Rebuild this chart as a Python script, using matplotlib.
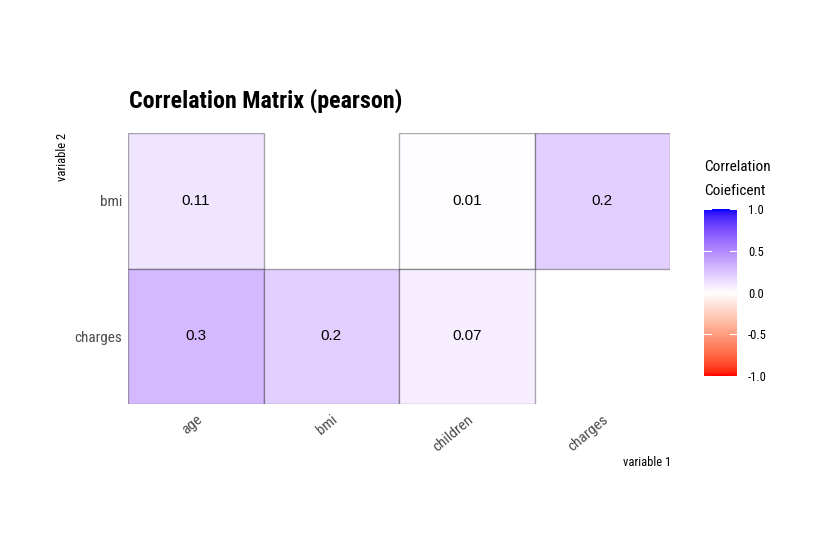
import numpy as np
import matplotlib
matplotlib.use("Agg")
import matplotlib.pyplot as plt
from matplotlib.colors import ListedColormap, Normalize
from matplotlib.patches import Rectangle

x_vars = ["age", "bmi", "children", "charges"]
y_vars = ["charges", "bmi"]  # bottom to top
# (x, y, value)
cells_x = ["age", "children", "charges", "age", "bmi", "children"]
cells_y = ["bmi", "bmi", "bmi", "charges", "charges", "charges"]
cells_v = [0.11, 0.01, 0.2, 0.3, 0.2, 0.07]
legend_ticks = [-1.0, -0.5, 0.0, 0.5, 1.0]

FONT = ["Roboto Condensed", "Roboto", "DejaVu Sans"]


# --- Lab-space diverging gradient (red - white - blue) ---
def srgb_to_lab(rgb):
    rgb = np.asarray(rgb, float)
    lin = np.where(rgb <= 0.04045, rgb / 12.92, ((rgb + 0.055) / 1.055) ** 2.4)
    M = np.array([[0.4124, 0.3576, 0.1805], [0.2126, 0.7152, 0.0722], [0.0193, 0.1192, 0.9505]])
    xyz = lin @ M.T
    wp = np.array([0.95047, 1.0, 1.08883])
    t = xyz / wp
    d = 6 / 29
    f = np.where(t > d ** 3, np.cbrt(t), t / (3 * d * d) + 4 / 29)
    L = 116 * f[..., 1] - 16
    a = 500 * (f[..., 0] - f[..., 1])
    b = 200 * (f[..., 1] - f[..., 2])
    return np.stack([L, a, b], -1)


def lab_to_srgb(lab):
    lab = np.asarray(lab, float)
    fy = (lab[..., 0] + 16) / 116
    fx = fy + lab[..., 1] / 500
    fz = fy - lab[..., 2] / 200
    d = 6 / 29
    def finv(f):
        return np.where(f > d, f ** 3, 3 * d * d * (f - 4 / 29))
    wp = np.array([0.95047, 1.0, 1.08883])
    xyz = np.stack([finv(fx), finv(fy), finv(fz)], -1) * wp
    Minv = np.array([[3.2406, -1.5372, -0.4986], [-0.9689, 1.8758, 0.0415], [0.0557, -0.2040, 1.0570]])
    lin = xyz @ Minv.T
    lin = np.clip(lin, 0, 1)
    rgb = np.where(lin <= 0.0031308, 12.92 * lin, 1.055 * lin ** (1 / 2.4) - 0.055)
    return np.clip(rgb, 0, 1)


red = srgb_to_lab([1, 0, 0])
white = srgb_to_lab([1, 1, 1])
blue = srgb_to_lab([0, 0, 1])
t = np.linspace(0, 1, 128)[:, None]
lower = red + (white - red) * t
upper = white + (blue - white) * t
lab = np.vstack([lower, upper[1:]])
cmap = ListedColormap(lab_to_srgb(lab))
norm = Normalize(-1, 1)

fig = plt.figure(figsize=(8.4, 5.6), dpi=100)
ax = fig.add_axes([128 / 840, 1 - 404 / 560, 542 / 840, 271 / 560])

for xv, yv, v in zip(cells_x, cells_y, cells_v):
    xi = x_vars.index(xv)
    yi = y_vars.index(yv)
    ax.add_patch(Rectangle((xi - 0.5, yi - 0.5), 1, 1, facecolor=cmap(norm(v)),
                           edgecolor=(0, 0, 0, 0.33), linewidth=1.0))
    ax.text(xi, yi, f"{v:g}", ha="center", va="center", fontsize=11,
            family="Liberation Sans", color="black")

ax.set_xlim(-0.5, len(x_vars) - 0.5)
ax.set_ylim(-0.5, len(y_vars) - 0.5)
for s in ax.spines.values():
    s.set_visible(False)
ax.set_xticks(range(len(x_vars)))
ax.set_yticks(range(len(y_vars)))
ax.set_xticklabels(x_vars, rotation=40, ha="right", va="top", rotation_mode="anchor",
                   family=FONT, fontsize=11, color="#4D4D4D")
ax.set_yticklabels(y_vars, family=FONT, fontsize=11, color="#4D4D4D")
ax.tick_params(axis="y", length=0, pad=4)
ax.tick_params(axis="x", length=0, pad=6)
ax.grid(False)

fig.text(129 / 840, 1 - 101 / 560, "Correlation Matrix (pearson)", fontsize=17.3,
         fontweight="bold", family=FONT, ha="left", va="center")
fig.text(63 / 840, 1 - 133 / 560, "variable 2", rotation=90, fontsize=9, family=FONT,
         ha="center", va="top")
fig.text(671 / 840, 1 - 462 / 560, "variable 1", fontsize=9, family=FONT,
         ha="right", va="center")

# Legend
fig.text(704 / 840, 1 - 167 / 560, "Correlation", fontsize=11, family=FONT, ha="left", va="center")
fig.text(704 / 840, 1 - 191 / 560, "Coieficent", fontsize=11, family=FONT, ha="left", va="center")
cax = fig.add_axes([704 / 840, 1 - 376 / 560, 33 / 840, 167 / 560])
grad = np.linspace(-1, 1, 256)[:, None]
cax.imshow(grad, aspect="auto", cmap=cmap, norm=norm, origin="lower", extent=[0, 1, -1, 1])
cax.set_xlim(0, 1)
cax.set_ylim(-1, 1)
for s in cax.spines.values():
    s.set_visible(False)
cax.set_xticks([])
cax.yaxis.tick_right()
cax.set_yticks(legend_ticks)
cax.set_yticklabels([f"{v:.1f}" for v in legend_ticks], family=FONT, fontsize=9)
cax.tick_params(axis="y", length=0, pad=8)
for v in legend_ticks:
    cax.plot([0, 0.2], [v, v], color="white", lw=0.8)
    cax.plot([0.8, 1], [v, v], color="white", lw=0.8)

fig.savefig("out.png", dpi=100, facecolor="white")
